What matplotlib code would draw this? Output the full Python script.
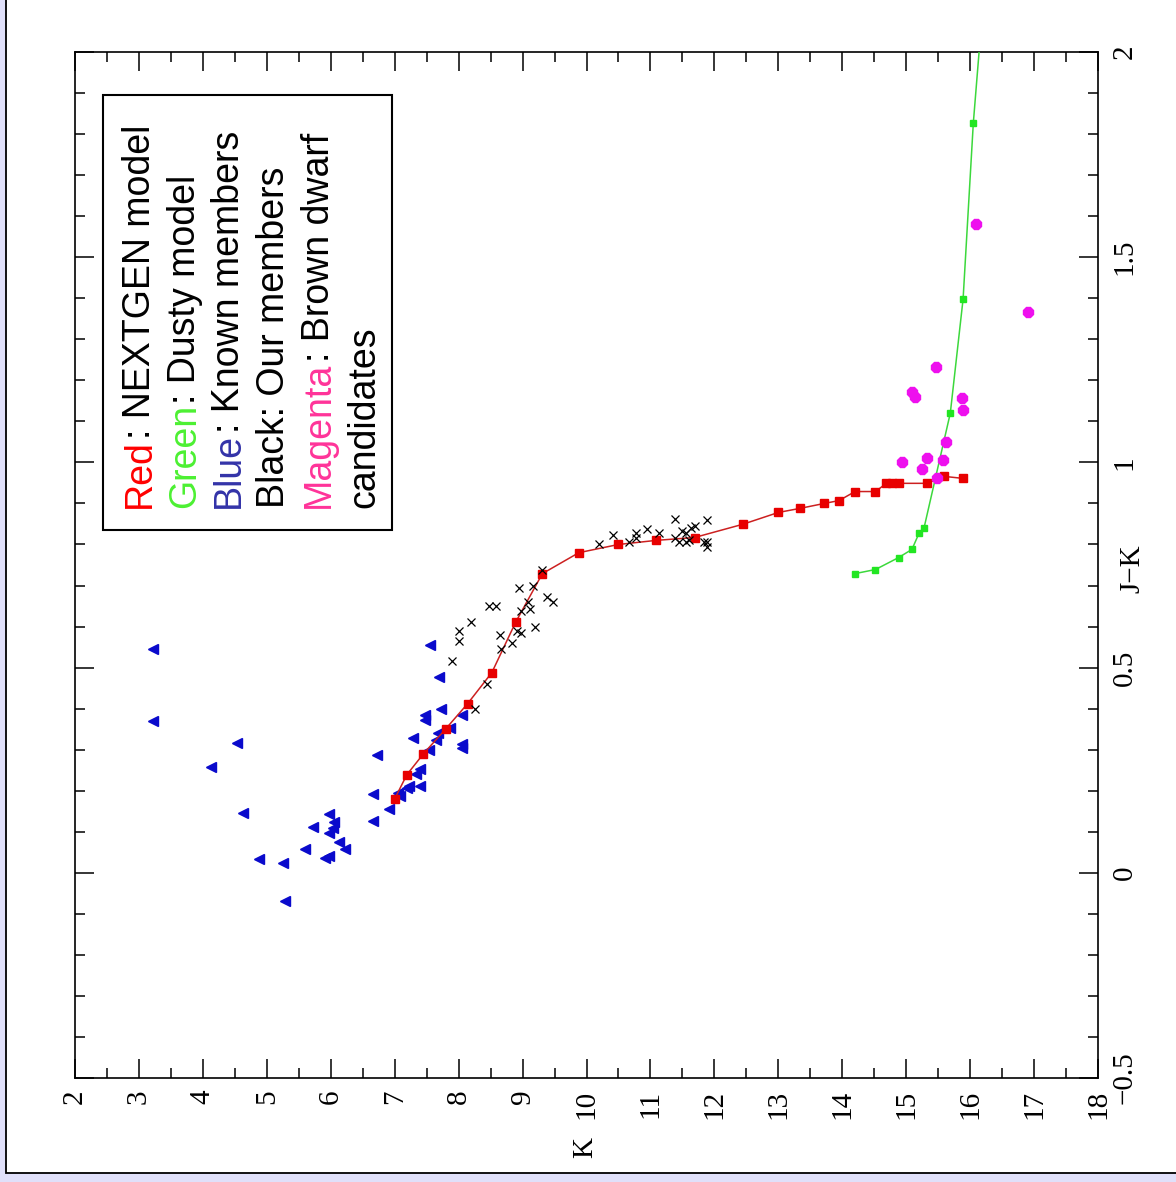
import matplotlib
matplotlib.use("Agg")
import matplotlib.pyplot as plt
from matplotlib.patches import Rectangle
from matplotlib.ticker import MultipleLocator, FuncFormatter

# NEXTGEN model isochrone (K, J-K)
red_k = [7.00, 7.19, 7.45, 7.80, 8.14, 8.52, 8.89, 9.31, 9.88, 10.50, 11.09, 11.69,
         12.44, 13.00, 13.34, 13.72, 13.95, 14.20, 14.52, 14.69, 14.78, 14.88, 15.33,
         15.59, 15.89]
red_jk = [0.180, 0.239, 0.290, 0.351, 0.412, 0.488, 0.610, 0.729, 0.780, 0.800, 0.810,
          0.817, 0.849, 0.878, 0.888, 0.900, 0.907, 0.929, 0.929, 0.949, 0.949, 0.949,
          0.949, 0.966, 0.961]

# Dusty model (last point is where the curve leaves the top of the frame)
green_k = [14.20, 14.52, 14.88, 15.09, 15.20, 15.28, 15.69, 15.89, 16.05, 16.14]
green_jk = [0.729, 0.739, 0.768, 0.788, 0.827, 0.841, 1.120, 1.398, 1.827, 2.00]

# known members
blue_k = [7.56, 7.70, 7.72, 7.48, 7.48, 8.05, 7.86, 7.67, 7.64, 7.28, 8.05, 8.06, 7.53,
          6.73, 7.39, 7.34, 7.23, 7.39, 7.19, 7.05, 7.08, 6.66, 6.91, 6.66, 5.98, 6.05,
          6.03, 5.98, 5.72, 6.13, 6.22, 5.59, 5.91, 5.97, 5.25, 5.28, 3.22, 3.22, 4.13,
          4.53, 4.63, 4.88]
blue_jk = [0.556, 0.476, 0.398, 0.385, 0.373, 0.385, 0.354, 0.341, 0.324, 0.329, 0.315,
           0.305, 0.300, 0.288, 0.254, 0.241, 0.212, 0.212, 0.207, 0.195, 0.188, 0.193,
           0.156, 0.127, 0.144, 0.124, 0.110, 0.098, 0.112, 0.076, 0.059, 0.059, 0.037,
           0.041, 0.024, -0.068, 0.546, 0.371, 0.259, 0.317, 0.146, 0.034]

# our members
black_k = [8.47, 8.59, 8.19, 8.00, 8.00, 7.89, 8.64, 8.83, 8.66, 8.44, 8.25, 8.92, 8.98,
           9.19, 9.31, 8.94, 9.16, 9.38, 9.47, 9.08, 8.98, 9.11, 10.19, 10.41, 10.67,
           10.78, 10.77, 10.94, 11.14, 11.38, 11.38, 11.50, 11.56, 11.64, 11.69, 11.45,
           11.56, 11.89, 11.84, 11.89, 11.88, 11.61]
black_jk = [0.651, 0.649, 0.610, 0.590, 0.566, 0.515, 0.580, 0.561, 0.546, 0.461, 0.398,
            0.588, 0.585, 0.600, 0.737, 0.695, 0.700, 0.671, 0.661, 0.659, 0.639, 0.644,
            0.802, 0.824, 0.805, 0.829, 0.815, 0.837, 0.829, 0.863, 0.817, 0.834, 0.827,
            0.841, 0.846, 0.805, 0.805, 0.859, 0.805, 0.805, 0.795, 0.810]

# brown dwarf candidates
mag_k = [16.09, 15.47, 15.09, 15.14, 15.88, 15.89, 15.63, 14.94, 15.33, 15.58, 15.25,
         15.48, 16.91]
mag_jk = [1.580, 1.232, 1.171, 1.159, 1.156, 1.127, 1.049, 1.002, 1.010, 1.007, 0.983,
          0.961, 1.366]

legend_lines = [
    [("Red", "#ff0000"), (": NEXTGEN model", "black")],
    [("Green", "#4cf032"), (": Dusty model", "black")],
    [("Blue", "#3333a8"), (": Known members", "black")],
    [("Black: Our members", "black")],
    [("Magenta", "#ff3399"), (": Brown dwarf", "black")],
    [("candidates", "black")],
]

W, H = 1176, 1182
fig = plt.figure(figsize=(W / 100, H / 100), dpi=100, facecolor="#e0e0fa")
fig.patches.append(Rectangle((6 / W, 9.5 / H), 1.2, 1.2, transform=fig.transFigure,
                             facecolor="white", edgecolor="black", lw=1.3, zorder=-5))

ax = fig.add_axes([75 / W, 1 - 1078 / H, 1023 / W, 1026 / H])
ax.set_facecolor("white")
ax.set_xlim(2, 18)
ax.set_ylim(-0.5, 2)

ax.plot(blue_k, blue_jk, ls="none", marker="<", ms=7, color="#0a0acc", mec="#0a0acc",
        zorder=2)
ax.plot(red_k, red_jk, color="#cc2020", lw=1.1, marker="s", ms=5.8, mfc="#e80000",
        mec="#e80000", zorder=3)
ax.plot(black_k, black_jk, ls="none", marker="x", ms=6, mew=0.9, color="black", zorder=4)
ax.plot(green_k, green_jk, color="#3cd83c", lw=1.1, marker="s", ms=5, mfc="#22e622",
        mec="#22e622", markevery=list(range(len(green_k) - 1)), zorder=3)
ax.plot(mag_k, mag_jk, ls="none", marker="8", ms=8.5, color="#ee10ee", mec="#ee10ee",
        zorder=5)

ax.xaxis.set_major_locator(MultipleLocator(1))
ax.xaxis.set_minor_locator(MultipleLocator(0.5))
ax.yaxis.set_major_locator(MultipleLocator(0.5))
ax.yaxis.set_minor_locator(MultipleLocator(0.1))
fmt = FuncFormatter(lambda v, p: ("%g" % v).replace("-", "\u2212"))
ax.xaxis.set_major_formatter(fmt)
ax.yaxis.set_major_formatter(fmt)

ax.tick_params(which="both", direction="in", top=True, bottom=True, left=True,
               right=True, labelleft=False, labelright=True, width=1.1, color="black")
ax.tick_params(which="major", length=13.5)
ax.tick_params(which="minor", length=7)
ax.tick_params(axis="x", labelrotation=90, pad=8.5)
ax.tick_params(axis="y", labelrotation=90, pad=10)
for lab in ax.get_xticklabels() + ax.get_yticklabels():
    lab.set_fontfamily("Liberation Serif")
    lab.set_fontsize(21)
for lab in ax.get_yticklabels():
    lab.set_verticalalignment("center")
for s in ax.spines.values():
    s.set_linewidth(1.2)

ax.text((585 - 75) / 1023, (1078 - 1148) / 1026, "K", rotation=90, ha="center",
        va="center", transform=ax.transAxes, fontsize=21, family="Liberation Serif")
ax.text((1132 - 75) / 1023, (1078 - 569) / 1026, "J\u2212K", rotation=90, ha="center",
        va="center", transform=ax.transAxes, fontsize=21, family="Liberation Serif")

# legend box
ax.add_patch(Rectangle((28 / 1023, (1078 - 530) / 1026), 289 / 1023, 435 / 1026,
                       transform=ax.transAxes, facecolor="white", edgecolor="black",
                       lw=1.5, zorder=6))

renderer = fig.canvas.get_renderer()
kw = dict(rotation=90, rotation_mode="anchor", ha="left", va="baseline", fontsize=27,
          family="Liberation Sans")
baselines = [150, 195, 239, 284, 329, 374]
y_start = 508
for xb, parts in zip(baselines, legend_lines):
    y = y_start
    for i, (txt, col) in enumerate(parts):
        fig.text(xb / W, 1 - y / H, txt, color=col, **kw)
        if i + 1 < len(parts):
            rest = "".join(p[0] for p in parts[i + 1:])
            here = "".join(p[0] for p in parts[i:])
            t_a = fig.text(0, 0, here, **kw)
            t_b = fig.text(0, 0, rest, **kw)
            d = (t_a.get_window_extent(renderer).height
                 - t_b.get_window_extent(renderer).height)
            t_a.remove()
            t_b.remove()
            y -= d

fig.savefig("out.png", dpi=100, facecolor=fig.get_facecolor())
